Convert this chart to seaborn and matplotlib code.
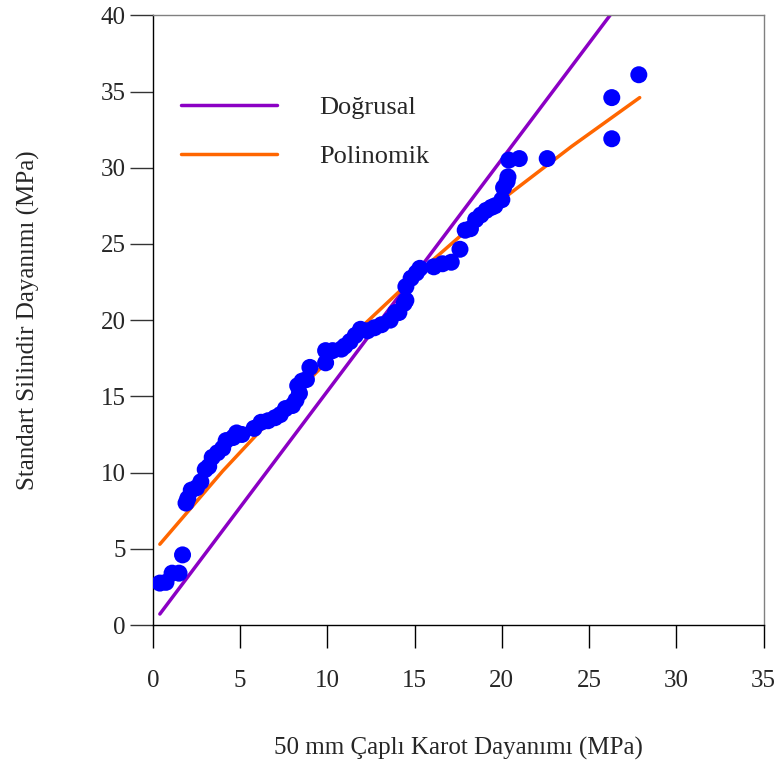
import matplotlib
matplotlib.use("Agg")
import matplotlib.pyplot as plt
import seaborn as sns
import pandas as pd

# core diameter 50 mm strength vs standard cylinder strength (MPa)
karot = [0.4, 0.75, 1.1, 1.5, 1.7, 1.9, 2.0, 2.2, 2.5, 2.75, 3.0, 3.2, 3.4, 3.7,
         4.0, 4.2, 4.6, 4.8, 5.1, 5.8, 6.2, 6.6, 7.0, 7.3, 7.6, 8.0, 8.2, 8.4,
         8.3, 8.55, 8.8, 9.0, 9.9, 9.9, 10.3, 10.8, 11.0, 11.3, 11.6, 11.9, 12.3,
         12.7, 13.1, 13.6, 13.9, 14.1, 14.4, 14.5, 14.5, 14.8, 15.1, 15.3, 16.1,
         16.6, 17.1, 17.6, 17.9, 18.2, 18.5, 18.8, 19.1, 19.4, 19.6, 20.0, 20.1,
         20.3, 20.35, 20.4, 21.0, 22.6, 26.3, 26.3, 27.85]
silindir = [2.75, 2.8, 3.4, 3.4, 4.6, 8.0, 8.3, 8.85, 9.0, 9.4, 10.2, 10.4, 11.0,
            11.3, 11.6, 12.1, 12.3, 12.6, 12.5, 12.9, 13.3, 13.4, 13.6, 13.8, 14.2,
            14.4, 14.75, 15.2, 15.7, 16.0, 16.1, 16.9, 17.2, 18.0, 18.0, 18.1, 18.3,
            18.6, 19.0, 19.4, 19.3, 19.5, 19.7, 20.0, 20.5, 20.5, 21.1, 21.3, 22.2,
            22.75, 23.1, 23.4, 23.5, 23.7, 23.8, 24.65, 25.9, 26.0, 26.6, 26.9, 27.2,
            27.4, 27.5, 27.9, 28.7, 29.1, 29.4, 30.5, 30.6, 30.6, 31.9, 34.6, 36.1]

# fitted curves
dogrusal_x = [0.4, 26.2]
dogrusal_y = [0.72, 40.0]
polinom_x = [0.4, 4, 8, 12, 16, 20, 24, 27.9]
polinom_y = [5.3, 10.1, 15.0, 19.6, 23.9, 27.9, 31.4, 34.6]

xticks = [0, 5, 10, 15, 20, 25, 30, 35]
yticks = [0, 5, 10, 15, 20, 25, 30, 35, 40]

sns.set_style("white")
plt.rcParams['font.family'] = ['Liberation Serif', 'DejaVu Serif']

fig = plt.figure(figsize=(7.76, 7.65), dpi=100)
ax = fig.add_axes([0.197, 0.183, 0.787, 0.797])

pts = pd.DataFrame({"x": karot, "y": silindir})
sns.lineplot(x=dogrusal_x, y=dogrusal_y, color="#8B00C4", lw=2.5, ax=ax,
             label="Doğrusal", zorder=2)
sns.lineplot(x=polinom_x, y=polinom_y, color="#FF6600", lw=2.5, ax=ax,
             label="Polinomik", zorder=2)
sns.scatterplot(data=pts, x="x", y="y", color="#0000FF", s=150, edgecolor="none",
                ax=ax, zorder=3)

ax.set_xlim(0, 35)
ax.set_ylim(0, 40)
ax.set_xticks(xticks)
ax.set_yticks(yticks)
ax.tick_params(axis="x", bottom=True, direction="out", length=16.5, width=1,
               pad=16, labelsize=18, color="black")
ax.tick_params(axis="y", left=True, direction="out", length=16.5, width=1,
               pad=3, labelsize=18, color="#333333")
ax.set_xlabel("50 mm Çaplı Karot Dayanımı (MPa)", fontsize=18, labelpad=32)
ax.set_ylabel("Standart Silindir Dayanımı (MPa)", fontsize=18, labelpad=44)

for side in ["left", "bottom"]:
    ax.spines[side].set_color("black")
    ax.spines[side].set_linewidth(1)
for side in ["top", "right"]:
    ax.spines[side].set_color("#808080")
    ax.spines[side].set_linewidth(1)

ax.legend(loc="upper left", bbox_to_anchor=(0.046, 0.868), frameon=False,
          borderaxespad=0, borderpad=0, fontsize=19, handlelength=3.65,
          handletextpad=1.6, labelspacing=0.95)

fig.savefig("out.png", dpi=100)
